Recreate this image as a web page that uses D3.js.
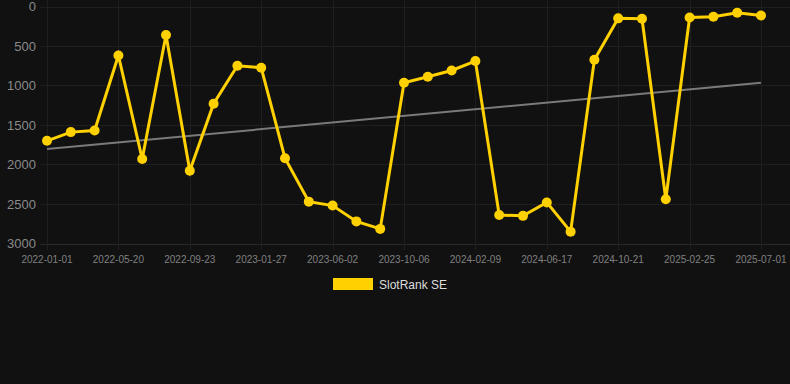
<!DOCTYPE html>
<html>
<head>
<meta charset="utf-8">
<script src="https://cdn.jsdelivr.net/npm/d3@7"></script>
<style>
    html, body { margin: 0; padding: 0; background: #111111; }
    body { width: 790px; height: 384px; overflow: hidden; font-family: "Liberation Sans", Arial, sans-serif; }
</style>
</head>
<body>
<div id="chart"></div>
<script>
// dates of each point (only every 3rd one is labelled on the axis)
var dates = [
    "2022-01-01", "2022-02-16", "2022-04-03", "2022-05-20", "2022-07-01", "2022-08-12",
    "2022-09-23", "2022-11-04", "2022-12-16", "2023-01-27", "2023-03-10", "2023-04-21",
    "2023-06-02", "2023-07-14", "2023-08-25", "2023-10-06", "2023-11-17", "2023-12-29",
    "2024-02-09", "2024-03-22", "2024-05-04", "2024-06-17", "2024-07-29", "2024-09-09",
    "2024-10-21", "2024-12-02", "2025-01-13", "2025-02-25", "2025-04-08", "2025-05-20",
    "2025-07-01"
];
// rank values
var ranks = [
    1700, 1590, 1570, 620, 1930, 360,
    2080, 1230, 750, 775, 1920, 2470,
    2520, 2720, 2815, 965, 890, 810,
    690, 2640, 2650, 2480, 2850, 675,
    150, 155, 2440, 140, 130, 80,
    115
];
// trend line at first and last date
var trend = [1805, 965];
var yTicks = [0, 500, 1000, 1500, 2000, 2500, 3000];
var seriesName = "SlotRank SE";

var width = 790, height = 384;
var svg = d3.select("#chart").append("svg")
    .attr("width", width)
    .attr("height", height);

// scales
var x = d3.scalePoint()
    .domain(dates)
    .range([47, 761]);
var y = d3.scaleLinear()
    .domain([0, 3000])
    .range([6.5, 243.5]);

// horizontal grid
svg.append("g")
    .selectAll("line")
    .data(yTicks)
    .enter().append("line")
    .attr("x1", 40)
    .attr("x2", 790)
    .attr("y1", function (d) { return Math.round(y(d)) + 0.5; })
    .attr("y2", function (d) { return Math.round(y(d)) + 0.5; })
    .attr("stroke", function (d) { return d == 3000 ? "#2a2a2a" : "#1f1f1f"; })
    .attr("stroke-width", 1);

// vertical grid at labelled dates
var labelled = dates.filter(function (d, i) { return i % 3 == 0; });
svg.append("g")
    .selectAll("line")
    .data(labelled)
    .enter().append("line")
    .attr("x1", function (d) { return Math.round(x(d)) + 0.5; })
    .attr("x2", function (d) { return Math.round(x(d)) + 0.5; })
    .attr("y1", 0)
    .attr("y2", 250)
    .attr("stroke", "#1f1f1f");

// y axis labels
svg.append("g")
    .selectAll("text")
    .data(yTicks)
    .enter().append("text")
    .attr("x", 36)
    .attr("y", function (d) { return y(d) + 4.5; })
    .attr("text-anchor", "end")
    .attr("fill", "#8a8a8a")
    .style("font-size", "13px")
    .text(function (d) { return d; });

// x axis labels
svg.append("g")
    .selectAll("text")
    .data(labelled)
    .enter().append("text")
    .attr("x", function (d) { return x(d); })
    .attr("y", 263)
    .attr("text-anchor", "middle")
    .attr("fill", "#808080")
    .style("font-size", "10px")
    .text(function (d) { return d; });

// trend line
svg.append("line")
    .attr("x1", x(dates[0]))
    .attr("x2", x(dates[dates.length - 1]))
    .attr("y1", y(trend[0]))
    .attr("y2", y(trend[1]))
    .attr("stroke", "#7a7a7a")
    .attr("stroke-width", 2);

// series line
var line = d3.line()
    .x(function (d, i) { return x(dates[i]); })
    .y(function (d) { return y(d); });

svg.append("path")
    .datum(ranks)
    .attr("d", line)
    .attr("fill", "none")
    .attr("stroke", "#ffd100")
    .attr("stroke-width", 3)
    .attr("stroke-linejoin", "miter");

svg.append("g")
    .selectAll("circle")
    .data(ranks)
    .enter().append("circle")
    .attr("cx", function (d, i) { return x(dates[i]); })
    .attr("cy", function (d) { return y(d); })
    .attr("r", 5)
    .attr("fill", "#ffd100");

// legend
svg.append("rect")
    .attr("x", 333)
    .attr("y", 278)
    .attr("width", 40)
    .attr("height", 12)
    .attr("fill", "#ffd100");
svg.append("text")
    .attr("x", 379)
    .attr("y", 288.5)
    .attr("fill", "#dddddd")
    .style("font-size", "12px")
    .text(seriesName);
</script>
</body>
</html>
